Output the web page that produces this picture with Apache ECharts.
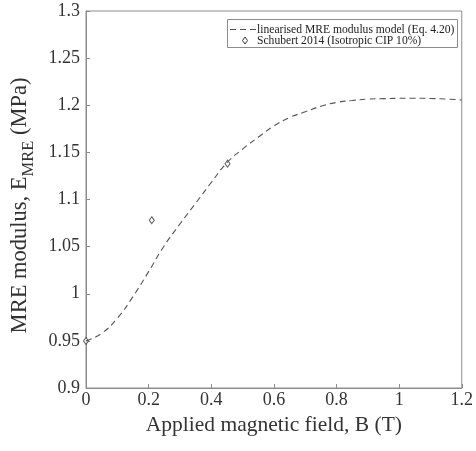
<!DOCTYPE html>
<html>
<head>
<meta charset="utf-8">
<script src="https://cdn.jsdelivr.net/npm/echarts@6/dist/echarts.min.js"></script>
<style>html,body{margin:0;padding:0;background:#fff}#c{width:476px;height:451px}</style>
</head>
<body>
<div id="c"></div>
<script>
var modelB = [0, 0.05, 0.1, 0.15, 0.2, 0.25, 0.3, 0.35, 0.4, 0.45, 0.5, 0.55, 0.6, 0.65, 0.7, 0.75, 0.8, 0.85, 0.9, 0.95, 1.0, 1.05, 1.1, 1.15, 1.2];
var modelE = [0.950, 0.958, 0.974, 0.997, 1.0235, 1.051, 1.074, 1.096, 1.118, 1.139, 1.1535, 1.166, 1.178, 1.187, 1.193, 1.199, 1.203, 1.205, 1.2065, 1.207, 1.2074, 1.2075, 1.2072, 1.2066, 1.2056];
var expB = [0, 0.21, 0.452];
var expE = [0.95, 1.078, 1.138];
var xTicks = [0, 0.2, 0.4, 0.6, 0.8, 1, 1.2];
var yTicks = [0.9, 0.95, 1, 1.05, 1.1, 1.15, 1.2, 1.25, 1.3];
var modelName = 'linearised MRE modulus model (Eq. 4.20)';
var expName = 'Schubert 2014 (Isotropic CIP 10%)';

var font = 'Liberation Serif';
var axisCol = '#8c8c8c';
var textCol = '#333';
var lineCol = '#555';

var chart = echarts.init(document.getElementById('c'), null, {renderer: 'canvas'});
function axisCommon() {
  return {
    axisLine: {show: true, lineStyle: {color: axisCol, width: 1}},
    axisTick: {show: true, inside: true, length: 4, lineStyle: {color: axisCol}},
    splitLine: {show: false},
    axisLabel: {color: textCol, fontFamily: font, fontSize: 18,
      formatter: function (v) { return String(+v.toFixed(2)); }}
  };
}
var xa = axisCommon();
xa.axisLabel.margin = 3;
var ya = axisCommon();
ya.axisLabel.margin = 6;

// legend box (drawn as graphic so the icons match the reference)
var lg = {left: 227, top: 19, w: 230, h: 28, row1: 29.5, row2: 40.5, textX: 257};
var legendFont = '11.6px "Liberation Serif"';
var legendGraphic = [
  {type: 'rect', z: 100, silent: true, shape: {x: lg.left + 0.5, y: lg.top + 0.5, width: lg.w, height: lg.h},
   style: {fill: '#fff', stroke: axisCol, lineWidth: 1}},
  {type: 'line', z: 101, silent: true, shape: {x1: lg.left + 3, y1: lg.row1, x2: lg.textX - 1, y2: lg.row1},
   style: {stroke: lineCol, lineWidth: 1.1, lineDash: [6, 4]}},
  {type: 'polygon', z: 101, silent: true, shape: {points: [[245, lg.row2 - 3.5], [247.5, lg.row2], [245, lg.row2 + 3.5], [242.5, lg.row2]]},
   style: {fill: '#fff', stroke: '#333', lineWidth: 1}},
  {type: 'text', z: 101, silent: true, x: lg.textX, y: lg.row1,
   style: {text: modelName, fill: '#222', font: legendFont, verticalAlign: 'middle'}},
  {type: 'text', z: 101, silent: true, x: lg.textX, y: lg.row2,
   style: {text: expName, fill: '#222', font: legendFont, verticalAlign: 'middle'}}
];

var option = {
  animation: false,
  backgroundColor: '#fff',
  grid: {left: 86, right: 12, top: 11, bottom: 63, show: true, borderColor: axisCol, borderWidth: 1, backgroundColor: 'transparent'},
  graphic: legendGraphic,
  xAxis: Object.assign(xa, {
    type: 'value', min: 0, max: 1.2, interval: 0.2,
    name: 'Applied magnetic field, B (T)', nameLocation: 'middle', nameGap: 16,
    nameTextStyle: {fontFamily: font, fontSize: 21.5, color: textCol}
  }),
  yAxis: Object.assign(ya, {
    type: 'value', min: 0.9, max: 1.3, interval: 0.05,
    name: '{a|MRE modulus, E}{s|MRE}{a| (MPa)}', nameLocation: 'middle', nameGap: 46,
    nameTextStyle: {fontFamily: font, fontSize: 22.5, color: textCol, padding: [0, 12, 0, 0],
      rich: {
        a: {fontFamily: font, fontSize: 22.5, color: textCol, verticalAlign: 'top', lineHeight: 24},
        s: {fontFamily: font, fontSize: 16.5, color: textCol, verticalAlign: 'top', lineHeight: 24, padding: [12, 0, 0, 0]}
      }}
  }),
  series: [
    {
      name: modelName, type: 'line', smooth: 0.5, showSymbol: false, symbol: 'none',
      data: modelB.map(function (b, i) { return [b, modelE[i]]; }),
      lineStyle: {color: lineCol, width: 1.1, type: [6, 4]},
      itemStyle: {color: lineCol}
    },
    {
      name: expName, type: 'scatter', symbol: 'diamond', symbolSize: [5, 7],
      data: expB.map(function (b, i) { return [b, expE[i]]; }),
      itemStyle: {color: '#fff', borderColor: '#333', borderWidth: 1}
    }
  ]
};
chart.setOption(option);
</script>
</body>
</html>
